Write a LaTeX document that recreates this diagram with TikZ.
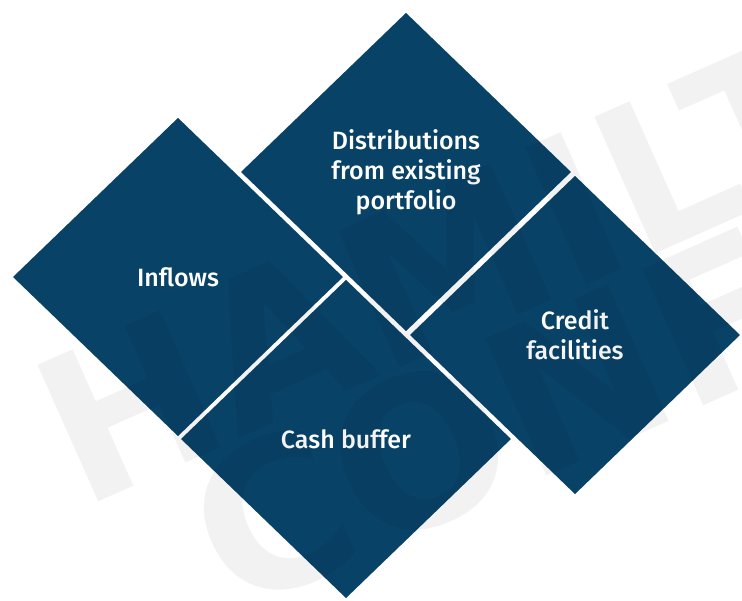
\documentclass[tikz,border=0pt]{standalone}
\usepackage{fontspec}
\setmainfont{Fira Sans}
\newfontfamily\lblfont{Fira Sans Medium}
\newfontfamily\wmfont{DejaVu Sans}
\usetikzlibrary{shapes.geometric}
\definecolor{navy}{RGB}{8,66,103}
\begin{document}
\begin{tikzpicture}[x=1pt,y=1pt,
  tile/.style={diamond, fill=navy, draw=white, line width=3pt,
    minimum width=336pt, minimum height=324pt, inner sep=0pt,
    text=white, align=center, font=\lblfont\fontsize{25}{30}\selectfont},
  wm/.style={rotate=24, anchor=base west,
    font=\wmfont\bfseries\fontsize{205}{205}\selectfont,
    text=black, opacity=0.05}]
\useasboundingbox (0,0) rectangle (742,601);
\clip (0,0) rectangle (742,601);
\node[tile] (inflows) at (178,324) {Inflows};
\node[tile] (dist) at (406,429) {Distributions\\from existing\\portfolio};
\node[tile] (credit) at (575,266) {Credit\\facilities};
\node[tile] (cash) at (346,162) {Cash buffer};
\node[wm] (wm1) at (78,90) {HAMILTON};
\node[wm] (wm2) at (230,-16) {CONFIDENTIAL};
\end{tikzpicture}
\end{document}
